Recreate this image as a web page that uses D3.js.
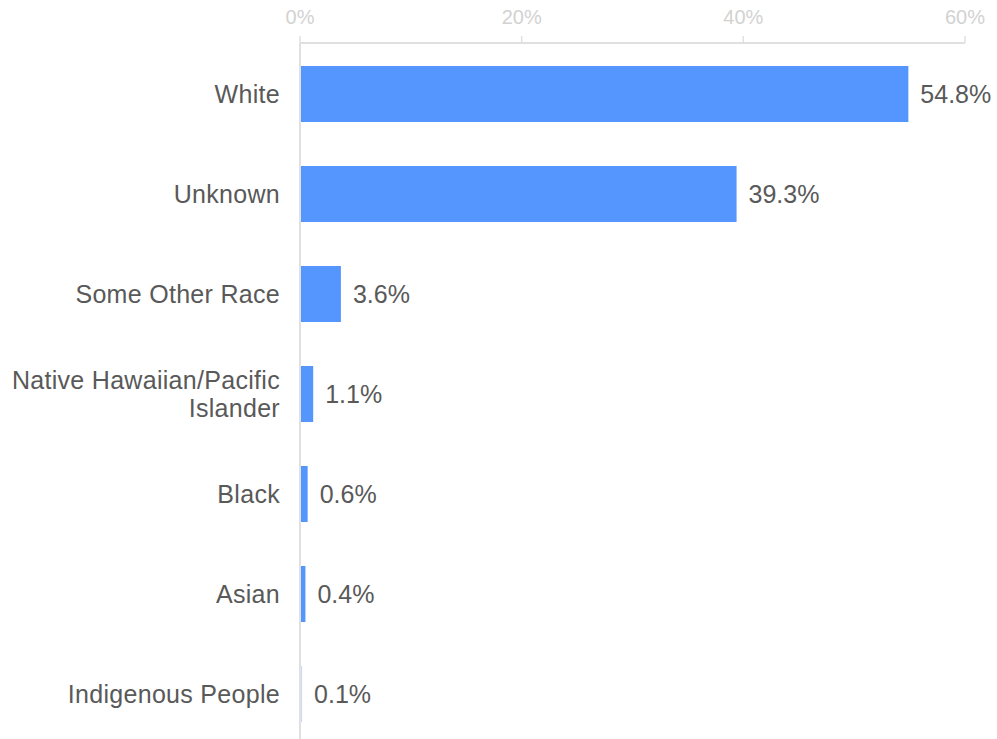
<!DOCTYPE html>
<html>
<head>
<meta charset="utf-8">
<script src="https://cdn.jsdelivr.net/npm/d3@7"></script>
<style>
  html, body { margin: 0; padding: 0; background: #fff; }
  svg { display: block; }
  text { font-family: "Liberation Sans", Arial, sans-serif; }
</style>
</head>
<body>
<svg id="chart" width="997" height="739"></svg>
<script>
// Share of records by race
const categories = [
  ["White"],
  ["Unknown"],
  ["Some Other Race"],
  ["Native Hawaiian/Pacific", "Islander"],
  ["Black"],
  ["Asian"],
  ["Indigenous People"]
];
const values = [54.8, 39.3, 3.6, 1.1, 0.6, 0.4, 0.1];
const tickValues = [0, 20, 40, 60];

const W = 997, H = 739;
const svg = d3.select("#chart");

const keys = categories.map(c => c.join(" "));

const x = d3.scaleLinear().domain([0, 60]).range([300, 965]);
const y = d3.scaleBand().domain(keys).range([44, 744])
  .paddingInner(0.44).paddingOuter(0.22);

// Top axis
const axisG = svg.append("g").attr("transform", "translate(0,43)");
axisG.append("line")
  .attr("x1", x(0)).attr("x2", x(60))
  .attr("y1", 0).attr("y2", 0)
  .attr("stroke", "#e0e0e0").attr("stroke-width", 2);
axisG.selectAll(".tick").data(tickValues).join("line")
  .attr("x1", d => x(d)).attr("x2", d => x(d))
  .attr("y1", 0).attr("y2", -7)
  .attr("stroke", "#e0e0e0").attr("stroke-width", 1.5);
axisG.selectAll(".tl").data(tickValues).join("text")
  .attr("x", d => x(d)).attr("y", -19)
  .attr("text-anchor", "middle")
  .attr("fill", "#d2d2d2")
  .attr("font-size", 20)
  .text(d => d + "%");

// Left baseline
svg.append("line")
  .attr("x1", 300).attr("x2", 300)
  .attr("y1", 43).attr("y2", H)
  .attr("stroke", "#e0e0e0").attr("stroke-width", 2);

// Bars
svg.selectAll(".bar").data(values).join("rect")
  .attr("x", x(0) + 1)
  .attr("y", (d, i) => y(keys[i]))
  .attr("width", d => Math.max(0.5, x(d) - x(0)))
  .attr("height", y.bandwidth())
  .attr("fill", (d, i) => i === values.length - 1 ? "#c9dcfb" : "#5596fe");

// Value labels
svg.selectAll(".val").data(values).join("text")
  .attr("x", d => x(d) + 13)
  .attr("y", (d, i) => y(keys[i]) + y.bandwidth() / 2)
  .attr("dy", "0.35em")
  .attr("fill", "#595959")
  .attr("font-size", 25)
  .text(d => d.toFixed(1) + "%");

// Category labels
const lab = svg.selectAll(".cat").data(categories).join("text")
  .attr("text-anchor", "end")
  .attr("fill", "#595959")
  .attr("font-size", 25)
  .attr("letter-spacing", 0.3);
lab.each(function(lines, i) {
  const cy = y(keys[i]) + y.bandwidth() / 2;
  const lh = 28;
  const t = d3.select(this);
  lines.forEach((ln, j) => {
    t.append("tspan")
      .attr("x", 280)
      .attr("y", cy + (j - (lines.length - 1) / 2) * lh)
      .attr("dy", "0.35em")
      .text(ln);
  });
});
</script>
</body>
</html>
